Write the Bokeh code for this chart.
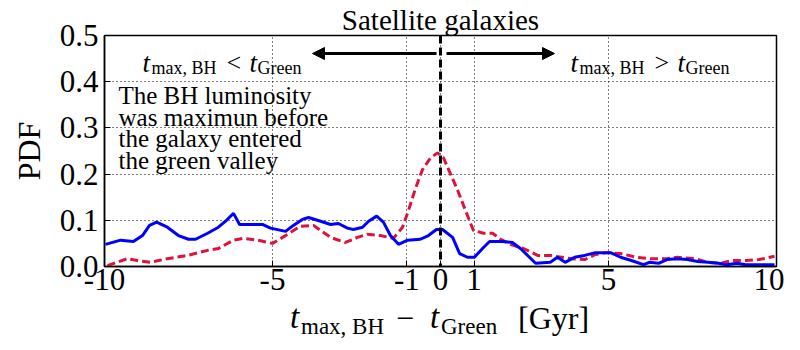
import math
from bokeh.plotting import figure
from bokeh.models import (FixedTicker, NumeralTickFormatter, Span, Label, Arrow,
                          NormalHead, Range1d, Div)
from bokeh.layouts import column
from bokeh.embed import file_html
from bokeh.resources import INLINE

# ---- data ----
blue_x = [-9.97, -9.52, -9.14, -8.87, -8.66, -8.45, -8.13, -7.80, -7.50, -7.29,
          -6.93, -6.61, -6.37, -6.16, -5.98, -5.65, -5.30, -5.06, -4.61, -4.38,
          -4.11, -3.93, -3.66, -3.27, -3.04, -2.77, -2.59, -2.32, -2.14, -1.90,
          -1.70, -1.49, -1.25, -0.98, -0.60, -0.36, -0.12, 0.06, 0.36, 0.57,
          0.80, 1.01, 1.25, 1.46, 1.85, 2.14, 2.38, 2.83, 3.27, 3.48,
          3.71, 3.99, 4.29, 4.61, 4.85, 5.06, 5.36, 5.68, 6.04, 6.22,
          6.49, 6.74, 7.05, 7.35, 7.65, 7.96, 8.27, 8.51, 8.83, 9.08,
          9.49, 9.94]
blue_pdf = [0.048, 0.057, 0.054, 0.067, 0.089, 0.096, 0.085, 0.067, 0.059, 0.059,
            0.072, 0.085, 0.100, 0.115, 0.091, 0.091, 0.091, 0.083, 0.076, 0.089,
            0.102, 0.106, 0.100, 0.091, 0.093, 0.083, 0.080, 0.085, 0.098, 0.109,
            0.096, 0.067, 0.048, 0.057, 0.059, 0.067, 0.080, 0.080, 0.063, 0.028,
            0.020, 0.020, 0.039, 0.054, 0.054, 0.052, 0.039, 0.007, 0.009, 0.020,
            0.009, 0.020, 0.024, 0.030, 0.030, 0.030, 0.020, 0.013, 0.004, 0.009,
            0.007, 0.015, 0.017, 0.015, 0.011, 0.009, 0.007, 0.004, 0.007, 0.004,
            0.004, 0.004]

red_x = [-9.91, -9.32, -9.02, -8.63, -8.13, -7.53, -6.93, -6.61, -6.16, -5.86,
         -5.45, -5.00, -4.70, -4.17, -3.78, -3.57, -3.27, -2.83, -2.47, -2.17,
         -1.79, -1.40, -1.13, -0.95, -0.74, -0.54, -0.30, -0.09, 0.09, 0.30,
         0.51, 0.74, 0.98, 1.28, 1.55, 1.79, 2.08, 2.47, 2.89, 3.27,
         3.42, 3.89, 4.29, 4.61, 4.96, 5.36, 5.83, 6.22, 6.74, 7.05,
         7.56, 7.96, 8.36, 8.68, 9.08, 9.49, 9.94]
red_pdf = [0.002, 0.017, 0.013, 0.009, 0.017, 0.024, 0.035, 0.039, 0.057, 0.061,
           0.057, 0.050, 0.063, 0.087, 0.089, 0.078, 0.063, 0.052, 0.063, 0.070,
           0.067, 0.061, 0.085, 0.122, 0.170, 0.209, 0.235, 0.246, 0.235, 0.200,
           0.165, 0.122, 0.078, 0.072, 0.072, 0.059, 0.048, 0.039, 0.024, 0.024,
           0.022, 0.017, 0.015, 0.026, 0.030, 0.028, 0.020, 0.017, 0.017, 0.020,
           0.017, 0.009, 0.007, 0.013, 0.013, 0.015, 0.022]

x_ticks = [-10, -5, -1, 0, 1, 5, 10]
x_tick_labels = ["-10", "-5", "-1", "0", "1", "5", "10"]
y_ticks = [0.0, 0.1, 0.2, 0.3, 0.4, 0.5]

title_text = "Satellite galaxies"
y_label = "PDF"
note_lines = ["The BH luminosity", "was maximun before", "the galaxy entered", "the green valley"]

# ---- layout ----
W, H = 784, 304
BL, BR, BT, BB = 104, 8, 35, 38
DIV_H = 30
X0, X1, Y0, Y1 = -10, 10, 0.0, 0.5
FW = W - BL - BR
FH = H - BT - BB

SERIF = "Liberation Serif"


def P(px, py):
    """canvas pixel -> data coordinates"""
    return (X0 + (px - BL) * (X1 - X0) / FW, Y0 + (BT + FH - py) * (Y1 - Y0) / FH)


p = figure(width=W, height=H, output_backend="svg", toolbar_location=None,
           x_range=Range1d(X0, X1), y_range=Range1d(Y0, Y1),
           min_border_left=BL, min_border_right=BR, min_border_top=BT,
           min_border_bottom=BB, background_fill_color="white",
           border_fill_color="white", title=title_text)
p.title.align = "center"
p.title.text_font = SERIF
p.title.text_font_size = "29px"
p.title.text_font_style = "normal"
p.title.text_color = "black"
p.title.standoff = 0

p.outline_line_color = "black"
p.outline_line_width = 1.5

xt = FixedTicker(ticks=x_ticks, minor_ticks=[])
yt = FixedTicker(ticks=y_ticks, minor_ticks=[])

p.xaxis.ticker = xt
p.xaxis.major_label_overrides = {t: s for t, s in zip(x_ticks, x_tick_labels)}
p.yaxis.ticker = yt
p.yaxis.formatter = NumeralTickFormatter(format="0.0")

for ax in list(p.xaxis) + list(p.yaxis):
    ax.major_tick_in = 6
    ax.major_tick_out = 0
    ax.minor_tick_in = 0
    ax.minor_tick_out = 0
    ax.axis_line_color = "black"
    ax.axis_line_width = 1.5
    ax.major_tick_line_color = "black"
    ax.major_label_text_font = SERIF
    ax.major_label_text_font_size = "31px"
    ax.major_label_text_color = "black"
p.xaxis.major_label_standoff = 2
p.yaxis.major_label_standoff = 6

p.yaxis.axis_label = y_label
p.yaxis.axis_label_text_font = SERIF
p.yaxis.axis_label_text_font_size = "32px"
p.yaxis.axis_label_text_font_style = "normal"
p.yaxis.axis_label_text_color = "black"
p.yaxis.axis_label_standoff = 10

p.xgrid.ticker = xt
p.ygrid.ticker = yt
for g in (p.xgrid, p.ygrid):
    g.grid_line_color = "black"
    g.grid_line_dash = "1 3"
    g.grid_line_width = 1

# curves
p.line(red_x, red_pdf, line_color="#dc143c", line_width=3, line_dash="8 4")
p.line(blue_x, blue_pdf, line_color="#0000ff", line_width=3)

# vertical dashed line at 0
p.add_layout(Span(location=0, dimension="height", line_color="black",
                  line_width=3, line_dash="8 4"))

# arrows
ya = P(0, 53)[1]
p.add_layout(Arrow(end=NormalHead(size=12, fill_color="black", line_color="black"),
                   x_start=P(436, 0)[0], y_start=ya, x_end=P(312, 0)[0], y_end=ya,
                   line_width=3, line_color="black"))
p.add_layout(Arrow(end=NormalHead(size=12, fill_color="black", line_color="black"),
                   x_start=P(446, 0)[0], y_start=ya, x_end=P(554, 0)[0], y_end=ya,
                   line_width=3, line_color="black"))


def txt(s, px, py, size, style="normal"):
    x, y = P(px, py)
    p.add_layout(Label(x=x, y=y, text=s, text_font=SERIF, text_font_size=f"{size}px",
                       text_font_style=style, text_align="left",
                       text_baseline="alphabetic", text_color="black"))


# inside annotations
for base_x, rel in ((142, "<"), (570, ">")):
    txt("t", base_x, 62, 27, "italic")
    txt("max, BH", base_x + 9, 67, 18)
    txt(rel, base_x + 84, 62, 26)
    txt("t", base_x + 107, 62, 27, "italic")
    txt("Green", base_x + 115, 67, 18)

for i, line in enumerate(note_lines):
    txt(line, 118, 95 + i * 21.7, 25)


# x-axis label (math-like) as HTML text below the plot
def span(s, left, base, size, italic=False):
    top = base - 0.8375 * size
    st = "font-style:italic;" if italic else ""
    return (f'<span style="position:absolute;left:{left}px;top:{top:.1f}px;'
            f'font-size:{size}px;line-height:1;{st}white-space:nowrap">{s}</span>')


xlabel_html = (
    f'<div style="position:relative;width:{W}px;height:{DIV_H}px;'
    f"font-family:'{SERIF}';color:black\">"
    + span("t", 290, 25, 33, True)
    + span("max, BH", 301, 30, 23)
    + span("\u2212", 396, 25, 32)
    + span("t", 430, 25, 33, True)
    + span("Green", 441, 30, 23)
    + span("[Gyr]", 518, 25, 32)
    + "</div>"
)
xlabel = Div(text=xlabel_html, width=W, height=DIV_H, margin=0)

layout = column(p, xlabel, spacing=0)
open("out.html", "w").write(file_html(layout, INLINE))
